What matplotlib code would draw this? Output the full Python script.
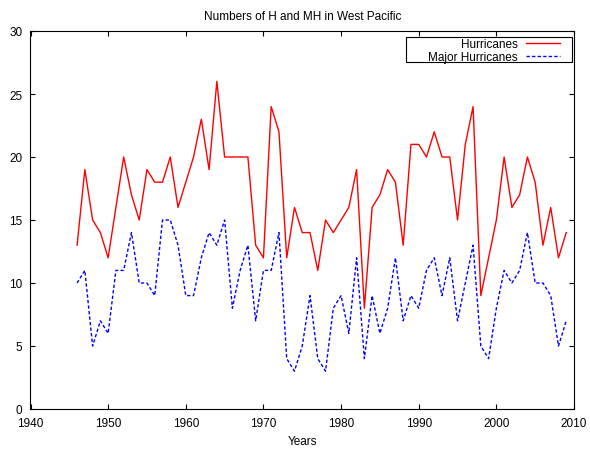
import matplotlib
matplotlib.use("Agg")
import matplotlib.pyplot as plt
from matplotlib.patches import Rectangle

years = list(range(1946, 2010))
hurricanes = [13, 19, 15, 14, 12, 16, 20, 17, 15, 19,
              18, 18, 20, 16, 18, 20, 23, 19, 26, 20,
              20, 20, 20, 13, 12, 24, 22, 12, 16, 14,
              14, 11, 15, 14, 15, 16, 19, 8, 16, 17,
              19, 18, 13, 21, 21, 20, 22, 20, 20, 15,
              21, 24, 9, 12, 15, 20, 16, 17, 20, 18,
              13, 16, 12, 14]
major_hurricanes = [10, 11, 5, 7, 6, 11, 11, 14, 10, 10,
                    9, 15, 15, 13, 9, 9, 12, 14, 13, 15,
                    8, 11, 13, 7, 11, 11, 14, 4, 3, 5,
                    9, 4, 3, 8, 9, 6, 12, 4, 9, 6,
                    8, 12, 7, 9, 8, 11, 12, 9, 12, 7,
                    10, 13, 5, 4, 8, 11, 10, 11, 14, 10,
                    10, 9, 5, 7]
xticks = [1940, 1950, 1960, 1970, 1980, 1990, 2000, 2010]
yticks = [0, 5, 10, 15, 20, 25, 30]

plt.rcParams['font.family'] = ['Liberation Sans', 'DejaVu Sans']
plt.rcParams['font.size'] = 8.5

W, H = 590, 452
L, R, T, B = 30.5, 574, 32, 410
fig = plt.figure(figsize=(W/100, H/100), dpi=100)
ax = fig.add_axes([L/W, 1 - B/H, (R - L)/W, (B - T)/H])

ax.plot(years, hurricanes, color='#ff0000', lw=1.0, label='Hurricanes')
ax.plot(years, major_hurricanes, color='#0000ff', lw=1.0, ls=(0, (2.4, 1.6)),
        label='Major Hurricanes')

ax.set_xlim(1940, 2010)
ax.set_ylim(0, 30)
ax.set_xticks(xticks)
ax.set_yticks(yticks)
ax.tick_params(direction='in', top=True, right=True, length=3.5, width=0.8,
               labelsize=8.5)
ax.tick_params(axis='y', pad=6)
ax.tick_params(axis='x', pad=6)
for s in ax.spines.values():
    s.set_linewidth(0.8)

ax.set_title('Numbers of H and MH in West Pacific', fontsize=8.5, pad=9)
ax.set_xlabel('Years', fontsize=8.5, labelpad=4)

def px_to_axes(x, y):
    return (x - L) / (R - L), (B - y) / (B - T)

# legend frame (gnuplot style box)
x0, y0 = px_to_axes(406, 63)
x1, y1 = px_to_axes(572, 38)
ax.add_patch(Rectangle((x0, y0), x1 - x0, y1 - y0, transform=ax.transAxes,
                       facecolor='white', edgecolor='black', lw=0.8,
                       clip_on=False, zorder=5))

ax_anchor = px_to_axes(560, 39)
leg = ax.legend(loc='upper right', bbox_to_anchor=ax_anchor,
                markerfirst=False, frameon=False, borderpad=0,
                labelspacing=0.08, handlelength=2.9, handletextpad=0.68,
                borderaxespad=0, fontsize=8.5)
leg.set_zorder(6)

fig.savefig('out.png', dpi=100)
